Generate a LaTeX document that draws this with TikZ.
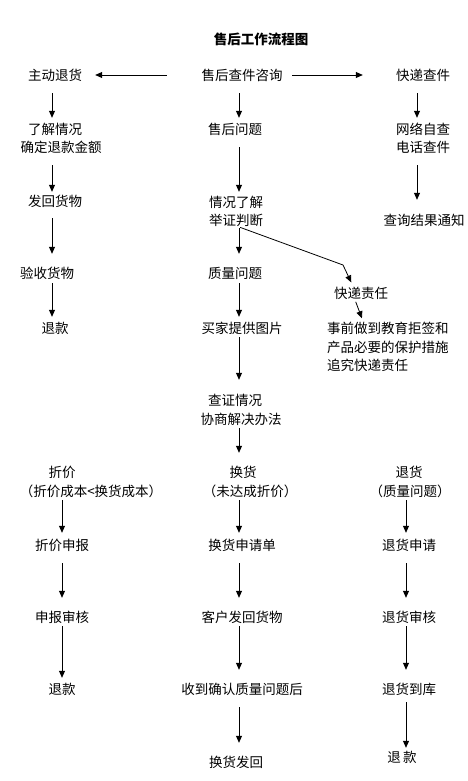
\documentclass[tikz,border=0pt]{standalone}
\usepackage{fontspec}
\setmainfont{Noto Sans CJK SC}
\usetikzlibrary{arrows.meta}
\begin{document}
\begin{tikzpicture}[x=1pt,y=-1pt,
  lbl/.style={inner sep=0pt, font=\fontsize{13.5pt}{18.5pt}\selectfont, text height=11.9pt, text depth=1.6pt},
  arr/.style={draw, line width=0.8pt, -{Triangle[length=7pt,width=6pt]}},
  ln/.style={draw, line width=0.8pt}]
\useasboundingbox (0,0) rectangle (468,781);
\fill[white] (0,0) rectangle (468,781);
\coordinate (cL) at (52,0);
\coordinate (cM) at (239,0);
\coordinate (cR) at (417,0);
\coordinate (bL) at (62,0);
\coordinate (bR) at (406,0);
% title
\node[lbl, font=\fontsize{13.5pt}{16pt}\selectfont\bfseries] (title) at (261,39) {售后工作流程图};
% left top column
\node[lbl] (L1) at (55,75) {主动退货};
\node[lbl] (L2a) at (55,129) {了解情况};
\node[lbl] (L2b) at (61,147) {确定退款金额};
\node[lbl] (L3) at (55,201) {发回货物};
\node[lbl] (L4) at (47,273) {验收货物};
\node[lbl] (L5) at (55,328) {退款};
% middle column
\node[lbl] (M1) at (242,75) {售后查件咨询};
\node[lbl] (M2) at (235,129) {售后问题};
\node[lbl] (M3a) at (236,202) {情况了解};
\node[lbl] (M3b) at (236,220) {举证判断};
\node[lbl] (M4) at (235,273) {质量问题};
\node[lbl] (M5) at (242,328) {买家提供图片};
\node[lbl] (M6a) at (235,400) {查证情况};
\node[lbl] (M6b) at (241,419) {协商解决办法};
% express branch
\node[lbl] (K) at (361,293) {快递责任};
\node[lbl, anchor=west] (T1) at (327,328) {事前做到教育拒签和};
\node[lbl, anchor=west] (T2) at (327,347) {产品必要的保护措施};
\node[lbl, anchor=west] (T3) at (327,365) {追究快递责任};
\coordinate (kb) at (343,265);
% right top column
\node[lbl] (R1) at (423,75) {快递查件};
\node[lbl] (R2a) at (423,129) {网络自查};
\node[lbl] (R2b) at (423,147) {电话查件};
\node[lbl] (R3) at (424,220) {查询结果通知};
% bottom left
\node[lbl] (BL1a) at (62,472) {折价};
\node[lbl] (BL1b) at (91,491) {（折价成本<换货成本）};
\node[lbl] (BL2) at (62,545) {折价申报};
\node[lbl] (BL3) at (62,617) {申报审核};
\node[lbl] (BL4) at (62,689) {退款};
% bottom middle
\node[lbl] (BM1a) at (243,472) {换货};
\node[lbl] (BM1b) at (250,491) {（未达成折价）};
\node[lbl] (BM2) at (242,545) {换货申请单};
\node[lbl] (BM3) at (242,617) {客户发回货物};
\node[lbl] (BM4) at (242,689) {收到确认质量问题后};
\node[lbl] (BM5) at (236,762) {换货发回};
% bottom right
\node[lbl] (BR1a) at (409,472) {退货};
\node[lbl] (BR1b) at (410,491) {（质量问题）};
\node[lbl] (BR2) at (409,545) {退货申请};
\node[lbl] (BR3) at (409,617) {退货审核};
\node[lbl] (BR4) at (409,689) {退货到库};
\node[lbl] (BR5) at (402,757) {退\,款};

% horizontal arrows
\draw[arr, shorten <=34.5pt, shorten >=13pt] (M1.west) -- (L1.east);
\draw[arr, shorten <=9.5pt, shorten >=33pt] (M1.east) -- (R1.west);
% left top
\draw[arr, shorten <=11.25pt, shorten >=4.25pt] (L1.south -| cL) -- (L2a.north -| cL);
\draw[arr, shorten <=11.25pt, shorten >=2.25pt] (L2b.south -| cL) -- (L3.north -| cL);
\draw[arr, shorten <=10.25pt, shorten >=12.25pt] (L3.south -| cL) -- (L4.north -| cL);
\draw[arr, shorten <=3.25pt, shorten >=4.25pt] (L4.south -| cL) -- (L5.north -| cL);
% middle
\draw[arr, shorten <=11.25pt, shorten >=4.25pt] (M1.south -| cM) -- (M2.north -| cM);
\draw[arr, shorten <=11.25pt, shorten >=3.25pt] (M2.south -| cM) -- (M3a.north -| cM);
\draw[arr, shorten <=1.25pt, shorten >=12.25pt] (M3b.south -| cM) -- (M4.north -| cM);
\draw[arr, shorten <=3.25pt, shorten >=4.25pt] (M4.south -| cM) -- (M5.north -| cM);
\draw[arr, shorten <=2.25pt, shorten >=13.25pt] (M5.south -| cM) -- (M6a.north -| cM);
\draw[arr, shorten <=2.25pt, shorten >=12.25pt] (M6b.south -| cM) -- (BM1a.north -| cM);
% express branch
\draw[arr, shorten <=1.25pt, shorten >=4pt] (M3b.south -| cM) -- (kb) -- ([xshift=-8pt]K.north);
\draw[arr, shorten <=2pt, shorten >=3pt] ([xshift=-6pt]K.south) -- ([xshift=36pt]T1.north west);
% right top
\draw[arr, shorten <=11.25pt, shorten >=4.25pt] (R1.south -| cR) -- (R2a.north -| cR);
\draw[arr, shorten <=11.25pt, shorten >=13.25pt] (R2b.south -| cR) -- (R3.north -| cR);
% bottom left
\draw[arr, shorten <=2.25pt, shorten >=5.25pt] (BL1b.south -| bL) -- (BL2.north -| bL);
\draw[arr, shorten <=11.25pt, shorten >=12.25pt] (BL2.south -| bL) -- (BL3.north -| bL);
\draw[arr, shorten <=2.25pt, shorten >=4.25pt] (BL3.south -| bL) -- (BL4.north -| bL);
% bottom middle
\draw[arr, shorten <=2.25pt, shorten >=5.25pt] (BM1b.south -| cM) -- (BM2.north -| cM);
\draw[arr, shorten <=11.25pt, shorten >=12.25pt] (BM2.south -| cM) -- (BM3.north -| cM);
\draw[arr, shorten <=2.25pt, shorten >=12.25pt] (BM3.south -| cM) -- (BM4.north -| cM);
\draw[arr, shorten <=11.25pt, shorten >=12.25pt] (BM4.south -| cM) -- (BM5.north -| cM);
% bottom right
\draw[arr, shorten <=2.25pt, shorten >=5.25pt] (BR1b.south -| bR) -- (BR2.north -| bR);
\draw[arr, shorten <=11.25pt, shorten >=12.25pt] (BR2.south -| bR) -- (BR3.north -| bR);
\draw[arr, shorten <=2.25pt, shorten >=12.25pt] (BR3.south -| bR) -- (BR4.north -| bR);
\draw[arr, shorten <=6.25pt, shorten >=2.25pt] (BR4.south -| bR) -- (BR5.north -| bR);
\end{tikzpicture}
\end{document}
